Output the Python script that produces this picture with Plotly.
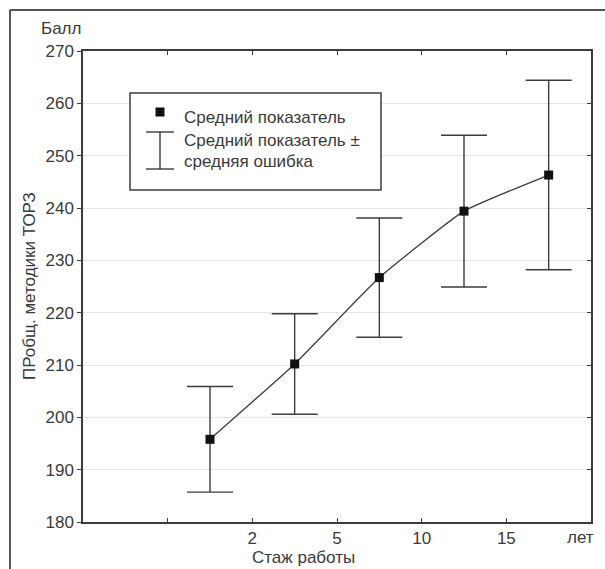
import plotly.graph_objects as go

# ---- data ----
categories = ["до 2", "2-5", "5-10", "10-15", "15+"]
cat_pos = [1.5, 2.5, 3.5, 4.5, 5.5]
means = [195.8, 210.2, 226.7, 239.4, 246.3]
errors = [10.1, 9.6, 11.4, 14.5, 18.1]
x_tick_vals = [1, 2, 3, 4, 5]
x_tick_text = ["", "2", "5", "10", "15"]
y_ticks = [180, 190, 200, 210, 220, 230, 240, 250, 260, 270]

W, H = 605, 569
L, R, T, B = 83, 591, 51, 522
FONT = "Liberation Sans, Arial, sans-serif"
TXT = "#3a3a3a"
LINE = "#3c3c3c"
FS = 17


def px(x):
    return (x - L) / (R - L)


def py(y):
    return (B - y) / (B - T)


fig = go.Figure()
fig.add_trace(go.Scatter(
    x=cat_pos, y=means, mode="lines+markers",
    line=dict(color=LINE, width=1.3, shape="spline", smoothing=0.4),
    marker=dict(symbol="square", size=9, color="#111111"),
    error_y=dict(type="data", array=errors, visible=True, color=LINE,
                 thickness=1.4, width=23),
    showlegend=False, hoverinfo="y",
))
# invisible trace for the right-side y axis ticks
fig.add_trace(go.Scatter(x=[cat_pos[0]], y=[means[0]], yaxis="y2",
                         mode="markers", marker=dict(opacity=0),
                         showlegend=False, hoverinfo="skip"))

fig.update_layout(
    width=W, height=H,
    margin=dict(l=L, r=W - R, t=T, b=H - B),
    paper_bgcolor="white", plot_bgcolor="white",
    font=dict(family=FONT, size=FS, color=TXT),
    xaxis=dict(range=[0, 6], tickvals=x_tick_vals, ticktext=x_tick_text,
               ticks="inside", ticklen=4, tickcolor=LINE,
               showline=True, linecolor=LINE, linewidth=1.5, mirror="ticks",
               showgrid=False, zeroline=False,
               tickfont=dict(size=FS, color=TXT)),
    yaxis=dict(range=[180, 270], tickvals=y_ticks,
               ticks="outside", ticklen=4, tickcolor=LINE,
               showline=True, linecolor=LINE, linewidth=1.5, mirror=True,
               showgrid=True, gridcolor="#e4e4e4", gridwidth=1,
               zeroline=False, tickfont=dict(size=FS, color=TXT)),
    yaxis2=dict(range=[180, 270], tickvals=y_ticks, overlaying="y",
                side="right", ticks="inside", ticklen=4, tickcolor=LINE,
                showticklabels=False, showgrid=False, zeroline=False,
                showline=False),
)

shapes = []
# outer frame (left and top edges; others continue off-page)
shapes.append(dict(type="line", xref="paper", yref="paper",
                   x0=px(10), x1=px(10), y0=py(10), y1=py(575),
                   line=dict(color="#555555", width=2)))
shapes.append(dict(type="line", xref="paper", yref="paper",
                   x0=px(10), x1=px(610), y0=py(10), y1=py(10),
                   line=dict(color="#555555", width=2)))
# legend box
shapes.append(dict(type="rect", xref="paper", yref="paper",
                   x0=px(130), x1=px(381), y0=py(93), y1=py(190),
                   line=dict(color=LINE, width=1.5), fillcolor="white"))
# legend marker
shapes.append(dict(type="rect", xref="paper", yref="paper",
                   x0=px(155.5), x1=px(164.5), y0=py(107.5), y1=py(116.5),
                   line=dict(width=0), fillcolor="#111111"))
# legend error-bar icon
for (x0, y0, x1, y1) in [(160, 132, 160, 169), (146, 132, 174, 132), (146, 169, 174, 169)]:
    shapes.append(dict(type="line", xref="paper", yref="paper",
                       x0=px(x0), x1=px(x1), y0=py(y0), y1=py(y1),
                       line=dict(color=LINE, width=1.4)))
fig.update_layout(shapes=shapes)

ann = []


def text(x, y, s, xanchor="left", angle=0):
    ann.append(dict(x=px(x), y=py(y), xref="paper", yref="paper", text=s,
                    showarrow=False, xanchor=xanchor, yanchor="middle",
                    textangle=angle, font=dict(family=FONT, size=FS, color=TXT)))


text(182, 118, "Средний показатель")
text(182, 140, "Средний показатель ±")
text(182, 162, "средняя ошибка")
text(61, 28, "Балл", xanchor="center")
text(303, 557, "Стаж работы", xanchor="center")
text(580, 537, "лет", xanchor="center")
text(29, 286, "ПРобщ. методики ТОРЗ", xanchor="center", angle=-90)
fig.update_layout(annotations=ann)

fig.write_html("out.html", config={"displayModeBar": False},
               post_script="document.body.style.margin='0';document.body.style.overflow='hidden';")
